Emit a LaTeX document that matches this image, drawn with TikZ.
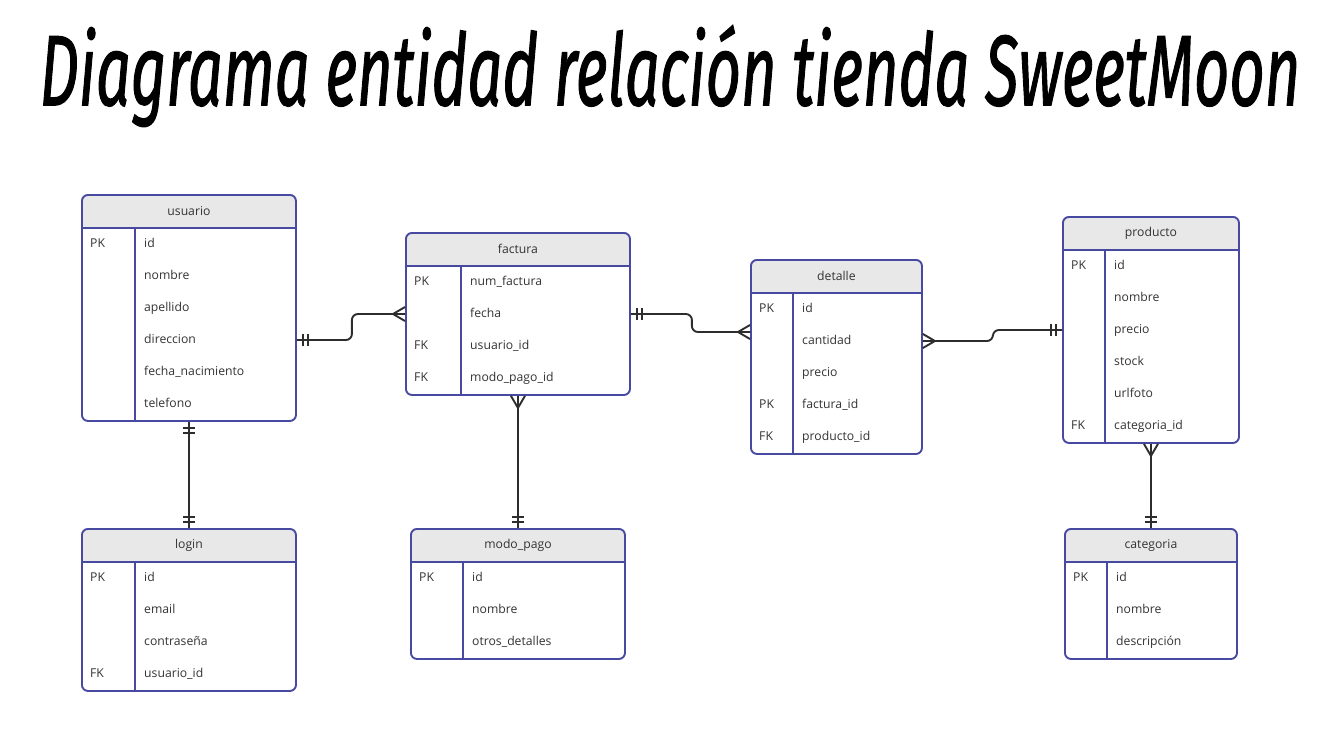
\documentclass[tikz,border=0pt]{standalone}
\usepackage{fontspec}
\setmainfont{Open Sans}
\newfontfamily\titlefont{Fira Sans}[FakeBold=1.4]
\usetikzlibrary{calc}

\definecolor{erblue}{RGB}{72,74,162}
\definecolor{erhead}{RGB}{232,232,232}
\definecolor{ertext}{RGB}{51,51,51}
\definecolor{erline}{RGB}{45,45,45}

\tikzset{
  tablebox/.style={draw=erblue, line width=1.9pt, rounded corners=6pt, anchor=north west, inner sep=0pt,
    path picture={\fill[erhead] (path picture bounding box.north west)
      rectangle ([yshift=-34pt]path picture bounding box.north east);}},
  headtext/.style={anchor=north, inner sep=0pt, minimum height=34pt,
    font=\fontsize{12.2}{14}\selectfont, text=ertext},
  rule/.style={draw=erblue, line width=1.9pt},
  keytext/.style={anchor=west, inner sep=0pt, text height=8.7pt, text depth=2.5pt,
    font=\fontsize{12.2}{14}\selectfont, text=ertext},
  link/.style={draw=erline, line width=1.9pt},
  manyend/.pic={\draw[link] (-12,0) -- (0,-7) (-12,0) -- (0,7);},
  oneend/.pic={\draw[link] (-6,-6) -- (-6,6) (-11,-6) -- (-11,6);},
}

\begin{document}
\begin{tikzpicture}[x=1pt, y=-1pt]
  \useasboundingbox (0,0) rectangle (1329,752);

  \node (title) at (670,76) {\resizebox{1260pt}{80pt}{\titlefont\itshape Diagrama entidad relación tienda SweetMoon}};

  % usuario
  \node[tablebox, minimum width=214pt, minimum height=226pt] (usuario) at (81,194) {};
  \node[headtext] (usuario-h) at (usuario.north) {usuario};
  \draw[rule] (usuario-h.south -| usuario.west) -- (usuario-h.south -| usuario.east)
    ([xshift=54pt]usuario-h.south -| usuario.west) -- ([xshift=54pt]usuario.south west);
  \foreach \k/\f [count=\i] in {PK/id, /nombre, /apellido, /direccion, /fecha\_nacimiento, /telefono} {
    \node[keytext] (usuario-k\i) at (90,{194+18+32*\i}) {\k};
    \node[keytext] (usuario-f\i) at (144,{194+18+32*\i}) {\f};
  }

  % factura
  \node[tablebox, minimum width=224pt, minimum height=162pt] (factura) at (405,232) {};
  \node[headtext] (factura-h) at (factura.north) {factura};
  \draw[rule] (factura-h.south -| factura.west) -- (factura-h.south -| factura.east)
    ([xshift=56pt]factura-h.south -| factura.west) -- ([xshift=56pt]factura.south west);
  \foreach \k/\f [count=\i] in {PK/num\_factura, /fecha, FK/usuario\_id, FK/modo\_pago\_id} {
    \node[keytext] (factura-k\i) at (414,{232+18+32*\i}) {\k};
    \node[keytext] (factura-f\i) at (470,{232+18+32*\i}) {\f};
  }

  % detalle
  \node[tablebox, minimum width=171pt, minimum height=194pt] (detalle) at (750,259) {};
  \node[headtext] (detalle-h) at (detalle.north) {detalle};
  \draw[rule] (detalle-h.south -| detalle.west) -- (detalle-h.south -| detalle.east)
    ([xshift=43pt]detalle-h.south -| detalle.west) -- ([xshift=43pt]detalle.south west);
  \foreach \k/\f [count=\i] in {PK/id, /cantidad, /precio, PK/factura\_id, FK/producto\_id} {
    \node[keytext] (detalle-k\i) at (759,{259+18+32*\i}) {\k};
    \node[keytext] (detalle-f\i) at (802,{259+18+32*\i}) {\f};
  }
  \coordinate (detalle-in) at ([yshift=-73pt]detalle.north west);

  % producto
  \node[tablebox, minimum width=176pt, minimum height=226pt] (producto) at (1062,216) {};
  \node[headtext] (producto-h) at (producto.north) {producto};
  \draw[rule] (producto-h.south -| producto.west) -- (producto-h.south -| producto.east)
    ([xshift=43pt]producto-h.south -| producto.west) -- ([xshift=43pt]producto.south west);
  \foreach \k/\f [count=\i] in {PK/id, /nombre, /precio, /stock, /urlfoto, FK/categoria\_id} {
    \node[keytext] (producto-k\i) at (1071,{216+18+32*\i}) {\k};
    \node[keytext] (producto-f\i) at (1114,{216+18+32*\i}) {\f};
  }

  % login
  \node[tablebox, minimum width=214pt, minimum height=162pt] (login) at (81,528) {};
  \node[headtext] (login-h) at (login.north) {login};
  \draw[rule] (login-h.south -| login.west) -- (login-h.south -| login.east)
    ([xshift=54pt]login-h.south -| login.west) -- ([xshift=54pt]login.south west);
  \foreach \k/\f [count=\i] in {PK/id, /email, /contraseña, FK/usuario\_id} {
    \node[keytext] (login-k\i) at (90,{528+18+32*\i}) {\k};
    \node[keytext] (login-f\i) at (144,{528+18+32*\i}) {\f};
  }

  % modo_pago
  \node[tablebox, minimum width=214pt, minimum height=130pt] (modopago) at (410,528) {};
  \node[headtext] (modopago-h) at (modopago.north) {modo\_pago};
  \draw[rule] (modopago-h.south -| modopago.west) -- (modopago-h.south -| modopago.east)
    ([xshift=53pt]modopago-h.south -| modopago.west) -- ([xshift=53pt]modopago.south west);
  \foreach \k/\f [count=\i] in {PK/id, /nombre, /otros\_detalles} {
    \node[keytext] (modopago-k\i) at (419,{528+18+32*\i}) {\k};
    \node[keytext] (modopago-f\i) at (472,{528+18+32*\i}) {\f};
  }

  % categoria
  \node[tablebox, minimum width=172pt, minimum height=130pt] (categoria) at (1064,528) {};
  \node[headtext] (categoria-h) at (categoria.north) {categoria};
  \draw[rule] (categoria-h.south -| categoria.west) -- (categoria-h.south -| categoria.east)
    ([xshift=43pt]categoria-h.south -| categoria.west) -- ([xshift=43pt]categoria.south west);
  \foreach \k/\f [count=\i] in {PK/id, /nombre, /descripción} {
    \node[keytext] (categoria-k\i) at (1073,{528+18+32*\i}) {\k};
    \node[keytext] (categoria-f\i) at (1116,{528+18+32*\i}) {\f};
  }

  % relations
  \draw[link, rounded corners=6pt] (usuario.east |- usuario-f4) -- ++(55,0) |- (factura.west |- factura-f2);
  \draw[link, rounded corners=6pt] (factura.east |- factura-f2) -- ++(61,0) |- (detalle-in);
  \draw[link, rounded corners=6pt] (detalle.east |- detalle-f2) -- ++(70,0) |- (producto.west |- producto-f3);
  \draw[link] (usuario.south) -- (login.north);
  \draw[link] (factura.south) -- (modopago.north);
  \draw[link] (producto.south) -- (categoria.north);

  \pic[rotate=180] at (usuario.east |- usuario-f4) {oneend};
  \pic at (factura.west |- factura-f2) {manyend};
  \pic[rotate=180] at (factura.east |- factura-f2) {oneend};
  \pic at (detalle-in) {manyend};
  \pic[rotate=180] at (detalle.east |- detalle-f2) {manyend};
  \pic at (producto.west |- producto-f3) {oneend};
  \pic[rotate=90] at (usuario.south) {oneend};
  \pic[rotate=-90] at (login.north) {oneend};
  \pic[rotate=90] at (factura.south) {manyend};
  \pic[rotate=-90] at (modopago.north) {oneend};
  \pic[rotate=90] at (producto.south) {manyend};
  \pic[rotate=-90] at (categoria.north) {oneend};
\end{tikzpicture}
\end{document}
